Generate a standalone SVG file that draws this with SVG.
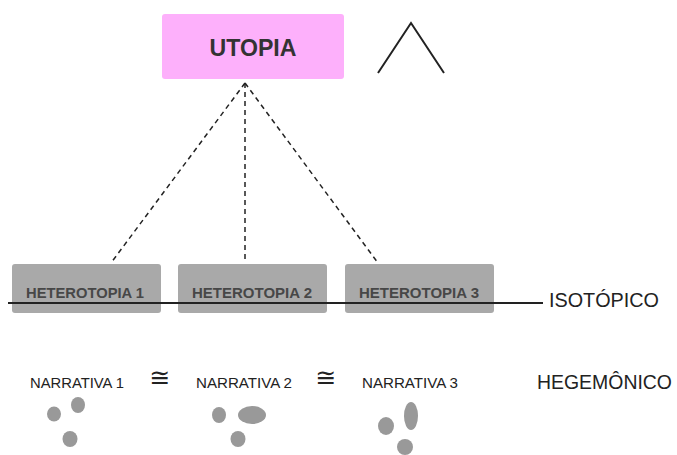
<svg xmlns="http://www.w3.org/2000/svg" width="677" height="455" viewBox="0 0 677 455">
<style>
.box{fill:#a9a9a9;}
.ht{font-family:"Liberation Sans",Arial,sans-serif;font-weight:bold;font-size:15px;fill:#474747;text-anchor:middle;}
.nt{font-family:"Liberation Sans",Arial,sans-serif;font-size:15px;fill:#222;}
.big{font-family:"Liberation Sans",Arial,sans-serif;font-size:20px;fill:#222;}
.cong{font-family:"DejaVu Sans",sans-serif;font-size:25px;fill:#222;text-anchor:middle;}
.dot{fill:#999;}
.dash{stroke:#222;stroke-width:1.5;stroke-dasharray:5,4;fill:none;}
</style>
<rect width="677" height="455" fill="#fff"/>
<g id="utopia">
<rect x="162" y="14" width="182" height="65" rx="3" fill="#fdb0fb"/>
<text x="253" y="56" font-family="Liberation Sans,Arial,sans-serif" font-weight="bold" font-size="24" fill="#333" text-anchor="middle" textLength="87" lengthAdjust="spacingAndGlyphs">UTOPIA</text>
</g>
<g id="caret"><polyline points="378,73 411,23 444,73" fill="none" stroke="#222" stroke-width="2"/></g>
<g id="connectors">
<line class="dash" x1="245" y1="83" x2="111" y2="263"/>
<line class="dash" x1="245" y1="83" x2="245" y2="263"/>
<line class="dash" x1="245" y1="83" x2="378" y2="263"/>
</g>
<g id="het1"><rect class="box" x="12" y="264" width="149" height="49" rx="3"/><text class="ht" x="85" y="298" textLength="118" lengthAdjust="spacingAndGlyphs">HETEROTOPIA 1</text></g>
<g id="het2"><rect class="box" x="178" y="264" width="149" height="49" rx="3"/><text class="ht" x="252" y="298" textLength="120" lengthAdjust="spacingAndGlyphs">HETEROTOPIA 2</text></g>
<g id="het3"><rect class="box" x="345" y="264" width="149" height="49" rx="3"/><text class="ht" x="419" y="298" textLength="120" lengthAdjust="spacingAndGlyphs">HETEROTOPIA 3</text></g>
<g id="isotopico">
<line x1="8" y1="303" x2="543" y2="303" stroke="#222" stroke-width="1.8"/>
<text class="big" x="549" y="307" textLength="110" lengthAdjust="spacingAndGlyphs">ISOTÓPICO</text>
</g>
<g id="narrativas">
<text class="nt" x="30" y="388" textLength="94" lengthAdjust="spacingAndGlyphs">NARRATIVA 1</text>
<text class="nt" x="196" y="388" textLength="96" lengthAdjust="spacingAndGlyphs">NARRATIVA 2</text>
<text class="nt" x="362" y="388" textLength="96" lengthAdjust="spacingAndGlyphs">NARRATIVA 3</text>
<text class="cong" x="160" y="386">≅</text>
<text class="cong" x="326" y="386">≅</text>
<text class="big" x="537" y="389" textLength="135" lengthAdjust="spacingAndGlyphs">HEGEMÔNICO</text>
</g>
<g id="dots1">
<ellipse class="dot" cx="78" cy="405" rx="7" ry="8"/>
<ellipse class="dot" cx="54" cy="414" rx="7" ry="7.5"/>
<ellipse class="dot" cx="70" cy="439" rx="7.5" ry="8"/>
</g>
<g id="dots2">
<ellipse class="dot" cx="219" cy="415" rx="7" ry="8"/>
<ellipse class="dot" cx="252" cy="415" rx="14" ry="9"/>
<ellipse class="dot" cx="238" cy="439" rx="7.5" ry="8"/>
</g>
<g id="dots3">
<ellipse class="dot" cx="386" cy="426" rx="8" ry="9"/>
<ellipse class="dot" cx="411" cy="416" rx="7" ry="14"/>
<ellipse class="dot" cx="405" cy="447" rx="8" ry="8"/>
</g>
</svg>
